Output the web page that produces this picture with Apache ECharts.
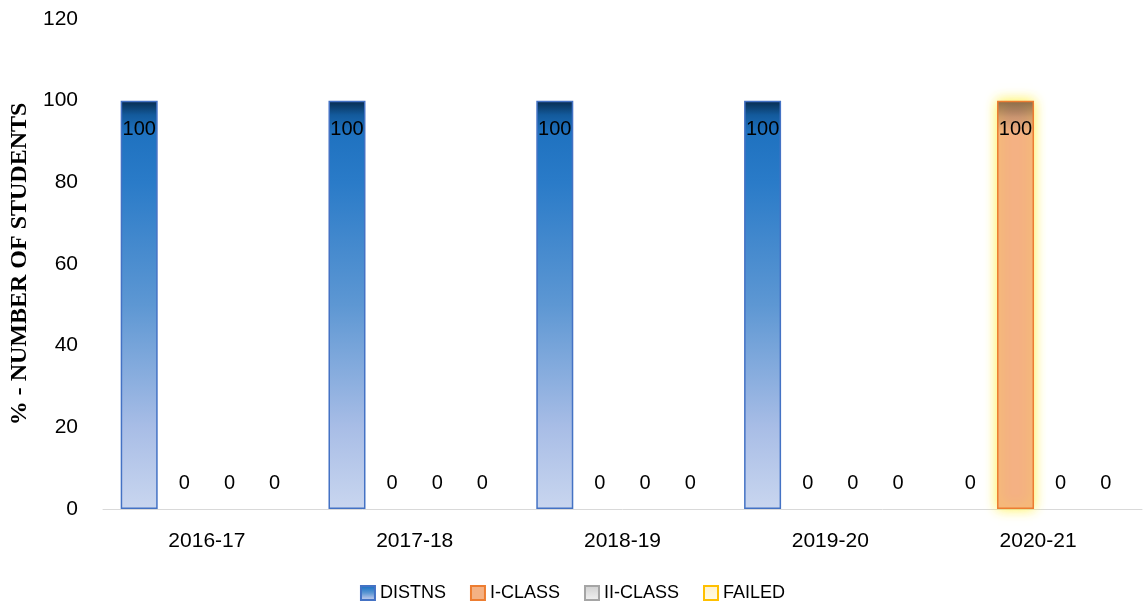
<!DOCTYPE html>
<html>
<head>
<meta charset="utf-8">
<script src="https://cdn.jsdelivr.net/npm/echarts@6/dist/echarts.min.js"></script>
<style>
  html, body { margin: 0; padding: 0; background: #fff; }
  #main { width: 1145px; height: 605px; }
</style>
</head>
<body>
<div id="main"></div>
<script>
// data
const years = ['2016-17', '2017-18', '2018-19', '2019-20', '2020-21'];
const distns = [100, 100, 100, 100, 0];
const iClass = [0, 0, 0, 0, 100];
const iiClass = [0, 0, 0, 0, 0];
const failed = [0, 0, 0, 0, 0];
const yTicks = [0, 20, 40, 60, 80, 100, 120];

const font = 'Liberation Sans, Arial, sans-serif';

function grad(stops) {
  return new echarts.graphic.LinearGradient(0, 0, 0, 1,
    stops.map(s => ({ offset: s[0], color: s[1] })));
}

// 100 sits inside the bar top, zeros float above the axis with no outline
function withLabels(arr) {
  return arr.map(v => v > 0
    ? { value: v, label: { position: 'insideTop', distance: 19 } }
    : { value: v, itemStyle: { borderWidth: 0, shadowBlur: 0 } });
}

const labelStyle = {
  show: true,
  position: 'top',
  distance: 16,
  color: '#000',
  fontSize: 20,
  fontFamily: font
};

let myChart = echarts.init(document.getElementById('main'));
let option = {
  animation: false,
  grid: { left: 103, right: 3, top: 19, bottom: 96, outerBoundsMode: 'none' },
  legend: {
    top: 579,
    left: 'center',
    icon: 'rect',
    itemWidth: 14,
    itemHeight: 14,
    itemGap: 24,
    textStyle: { fontSize: 18, color: '#000', fontFamily: font },
    data: ['DISTNS', 'I-CLASS', 'II-CLASS', 'FAILED']
  },
  xAxis: {
    type: 'category',
    data: years,
    axisLine: { lineStyle: { color: '#d9d9d9', width: 1 } },
    axisTick: { show: false },
    axisLabel: { fontSize: 21, color: '#000', margin: 22, fontFamily: font }
  },
  yAxis: {
    type: 'value',
    min: yTicks[0],
    max: yTicks[yTicks.length - 1],
    interval: yTicks[1] - yTicks[0],
    name: '% - NUMBER OF STUDENTS',
    nameLocation: 'middle',
    nameGap: 71,
    nameTextStyle: {
      fontSize: 24, fontWeight: 'bold', color: '#000',
      fontFamily: 'Liberation Serif, Times New Roman, serif'
    },
    splitLine: { show: false },
    axisLine: { show: false },
    axisTick: { show: false },
    axisLabel: { fontSize: 21, color: '#000', margin: 25, fontFamily: font }
  },
  series: [
    {
      name: 'DISTNS',
      type: 'bar',
      barWidth: 37,
      barGap: '22%',
      data: withLabels(distns),
      label: labelStyle,
      itemStyle: {
        color: grad([[0, '#072b4d'], [0.035, '#135a9c'], [0.08, '#1f72c0'],
                     [0.2, '#2a7bc8'], [0.5, '#5d97d3'], [0.8, '#a8bde6'], [1, '#c9d6ef']]),
        borderColor: '#4472c4',
        borderWidth: 1.5
      }
    },
    {
      name: 'I-CLASS',
      type: 'bar',
      barWidth: 37,
      data: withLabels(iClass),
      label: labelStyle,
      itemStyle: {
        color: grad([[0, '#7b5b4a'], [0.04, '#c99470'], [0.08, '#f4b183'], [1, '#f4b183']]),
        borderColor: '#ed7d31',
        borderWidth: 1.5,
        shadowColor: 'rgba(255, 240, 60, 0.95)',
        shadowBlur: 12
      }
    },
    {
      name: 'II-CLASS',
      type: 'bar',
      barWidth: 37,
      data: withLabels(iiClass),
      label: labelStyle,
      itemStyle: {
        color: grad([[0, '#cfcfcf'], [1, '#f2f2f2']]),
        borderColor: '#a5a5a5',
        borderWidth: 1.5
      }
    },
    {
      name: 'FAILED',
      type: 'bar',
      barWidth: 37,
      data: withLabels(failed),
      label: labelStyle,
      itemStyle: {
        color: grad([[0, '#fff2cc'], [1, '#fffbe8']]),
        borderColor: '#ffc000',
        borderWidth: 1.5
      }
    }
  ]
};

option && myChart.setOption(option);
</script>
</body>
</html>
